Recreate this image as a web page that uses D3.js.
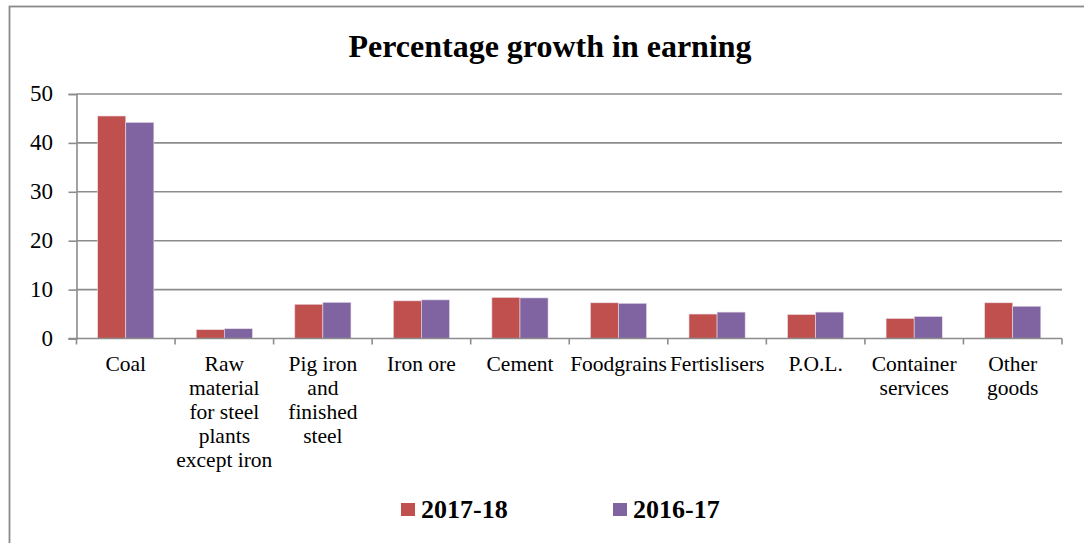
<!DOCTYPE html>
<html>
<head>
<meta charset="utf-8">
<script src="https://cdn.jsdelivr.net/npm/d3@7"></script>
<style>
  html, body { margin: 0; padding: 0; background: #fff; }
  svg { display: block; }
</style>
</head>
<body>
<svg id="chart" width="1084" height="543"></svg>
<script>
const categories = ["Coal", "Raw material for steel plants except iron", "Pig iron and finished steel",
  "Iron ore", "Cement", "Foodgrains", "Fertislisers", "P.O.L.", "Container services", "Other goods"];
const seriesNames = ["2017-18", "2016-17"];
const values2017 = [45.5, 1.8, 7.0, 7.7, 8.4, 7.3, 5.0, 4.9, 4.1, 7.3];
const values2016 = [44.2, 2.0, 7.4, 7.9, 8.3, 7.2, 5.4, 5.4, 4.5, 6.6];
const yTicks = [0, 10, 20, 30, 40, 50];
const colors = ["#C0504D", "#8064A2"];

(function () {
const FONT = "Liberation Serif";
const svg = d3.select("#chart").attr("font-family", FONT);
const pLeft = 76.5, pRight = 1062, pTop = 94, pBottom = 338.5;

// chart border
svg.append("rect").attr("x", 9.5).attr("y", 6.5).attr("width", 1090).attr("height", 560)
  .attr("fill", "#fff").attr("stroke", "#8a8a8a").attr("stroke-width", 1.8);

// title
svg.append("text").attr("x", 550).attr("y", 57).attr("text-anchor", "middle")
  .attr("font-family", FONT).attr("font-size", 32).attr("font-weight", "bold").attr("fill", "#000")
  .text("Percentage growth in earning");

const x0 = d3.scaleBand().domain(categories).range([pLeft, pRight]).paddingInner(0).paddingOuter(0);
const groupPad = 0.215;
const x1 = d3.scaleBand().domain(seriesNames)
  .range([x0.bandwidth() * groupPad, x0.bandwidth() * (1 - groupPad)]);
const y = d3.scaleLinear().domain([0, 50]).range([pBottom, pTop]);

// gridlines
svg.append("g").selectAll("line").data(yTicks.filter(d => d > 0)).join("line")
  .attr("x1", pLeft).attr("x2", pRight)
  .attr("y1", d => y(d)).attr("y2", d => y(d))
  .attr("stroke", "#8c8c8c").attr("stroke-width", 1.6);

// y axis
const yAxis = svg.append("g").attr("transform", `translate(${pLeft},0)`)
  .call(d3.axisLeft(y).tickValues(yTicks).tickSize(8).tickPadding(15.5).tickFormat(d3.format("d")));
yAxis.attr("font-family", FONT).attr("font-size", 23);
yAxis.select(".domain").attr("stroke", "#8c8c8c").attr("stroke-width", 1.6);
yAxis.selectAll(".tick line").attr("stroke", "#8c8c8c").attr("stroke-width", 1.6);
yAxis.selectAll(".tick text").attr("font-family", FONT).attr("font-size", 23).attr("fill", "#000")
  .attr("dy", "0.3em");

// bars
const series = [values2017, values2016];
const groups = svg.append("g").selectAll("g").data(categories).join("g")
  .attr("transform", d => `translate(${x0(d)},0)`);
groups.selectAll("rect").data((d, i) => seriesNames.map((s, k) => ({ s, v: series[k][i], k })))
  .join("rect")
  .attr("x", d => x1(d.s)).attr("width", x1.bandwidth())
  .attr("y", d => y(d.v)).attr("height", d => y(0) - y(d.v))
  .attr("fill", d => colors[d.k])
  .attr("stroke", "#e8dce8").attr("stroke-width", 0.6);

// x axis line and ticks at band boundaries
svg.append("line").attr("x1", pLeft - 8).attr("x2", pRight).attr("y1", pBottom).attr("y2", pBottom)
  .attr("stroke", "#8c8c8c").attr("stroke-width", 1.6);
const boundaries = categories.map(c => x0(c)).concat([pRight]);
svg.append("g").selectAll("line").data(boundaries).join("line")
  .attr("x1", d => d).attr("x2", d => d).attr("y1", pBottom).attr("y2", pBottom + 6)
  .attr("stroke", "#8c8c8c").attr("stroke-width", 1.6);

// category labels with wrapping
const maxW = 99, lineH = 24;
categories.forEach(c => {
  const cx = x0(c) + x0.bandwidth() / 2;
  const t = svg.append("text").attr("x", cx).attr("y", 370.5)
    .attr("text-anchor", "middle").attr("font-family", FONT).attr("font-size", 21.5).attr("fill", "#000");
  const words = c.split(" ");
  let line = [];
  let tspan = t.append("tspan").attr("x", cx).attr("dy", 0);
  words.forEach(w => {
    line.push(w);
    tspan.text(line.join(" "));
    if (tspan.node().getComputedTextLength() > maxW && line.length > 1) {
      line.pop();
      tspan.text(line.join(" "));
      line = [w];
      tspan = t.append("tspan").attr("x", cx).attr("dy", lineH).text(w);
    }
  });
});

// legend
const legendX = [401, 613];
seriesNames.forEach((s, k) => {
  svg.append("rect").attr("x", legendX[k]).attr("y", 503).attr("width", 14).attr("height", 13)
    .attr("fill", colors[k]);
  svg.append("text").attr("x", legendX[k] + 20).attr("y", 518)
    .attr("font-family", FONT).attr("font-size", 26).attr("font-weight", "bold").attr("fill", "#000")
    .text(s);
});
})();
</script>
</body>
</html>
